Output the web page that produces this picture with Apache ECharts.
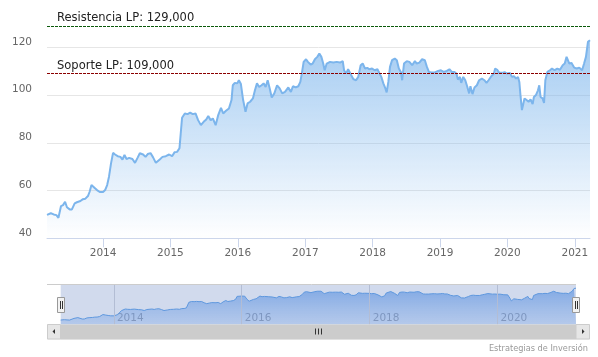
<!DOCTYPE html>
<html><head><meta charset="utf-8">
<script src="https://cdn.jsdelivr.net/npm/echarts@6/dist/echarts.min.js"></script>
<style>html,body{margin:0;padding:0;background:#fff}#c{width:598px;height:357px}</style>
</head><body><div id="c"></div>
<script>
const dates = [
'2013-03-03','2013-03-12','2013-03-24','2013-04-08','2013-04-23','2013-05-04','2013-05-18','2013-05-29','2013-06-09','2013-06-19','2013-07-04','2013-07-16','2013-07-31','2013-08-12','2013-08-31','2013-09-14','2013-09-27','2013-10-11','2013-10-20','2013-10-30','2013-11-07','2013-11-15','2013-11-29','2013-12-14',
'2014-01-01','2014-01-12','2014-01-23','2014-02-02','2014-02-13','2014-02-24','2014-03-07','2014-03-21','2014-04-05','2014-04-16','2014-04-27','2014-05-08','2014-05-22','2014-06-09','2014-06-23','2014-07-08','2014-07-19','2014-08-06','2014-08-19','2014-08-31','2014-09-15','2014-09-29','2014-10-14','2014-10-24','2014-11-04','2014-11-19','2014-12-07','2014-12-25',
'2015-01-10','2015-01-23','2015-02-06','2015-02-19','2015-02-26','2015-03-05','2015-03-20','2015-04-04','2015-04-18','2015-05-02','2015-05-17','2015-05-31','2015-06-15','2015-06-30','2015-07-14','2015-07-25','2015-08-07','2015-08-19','2015-09-03','2015-09-17','2015-10-02','2015-10-14','2015-10-29','2015-11-14','2015-11-28','2015-12-05','2015-12-16','2015-12-29',
'2016-01-07','2016-01-18','2016-01-30','2016-02-12','2016-02-23','2016-03-08','2016-03-23','2016-04-03','2016-04-14','2016-04-26','2016-05-09','2016-05-20','2016-05-31','2016-06-11','2016-06-22','2016-07-03','2016-07-17','2016-08-01','2016-08-15','2016-08-29','2016-09-13','2016-10-01','2016-10-15','2016-10-26','2016-11-10','2016-11-24','2016-12-05','2016-12-13','2016-12-23',
'2017-01-05','2017-01-15','2017-01-30','2017-02-10','2017-02-22','2017-03-07','2017-03-18','2017-03-29','2017-04-08','2017-04-16','2017-04-27','2017-05-15','2017-06-02','2017-06-20','2017-07-08','2017-07-23','2017-07-30','2017-08-10','2017-08-21','2017-08-31','2017-09-07','2017-09-18','2017-10-03','2017-10-15','2017-10-28','2017-11-08','2017-11-21','2017-12-03','2017-12-14','2017-12-29',
'2018-01-12','2018-01-27','2018-02-06','2018-02-17','2018-02-28','2018-03-11','2018-03-18','2018-03-27','2018-04-05','2018-04-16','2018-05-01','2018-05-12','2018-05-23','2018-06-03','2018-06-10','2018-06-20','2018-07-05','2018-07-19','2018-08-03','2018-08-18','2018-08-28','2018-09-11','2018-09-26','2018-10-11','2018-10-22','2018-11-02','2018-11-16','2018-12-04','2018-12-22',
'2019-01-06','2019-01-20','2019-02-07','2019-02-21','2019-03-06','2019-03-20','2019-03-31','2019-04-08','2019-04-19','2019-04-26','2019-05-07','2019-05-18','2019-05-28','2019-06-08','2019-06-15','2019-06-26','2019-07-07','2019-07-20','2019-08-01','2019-08-16','2019-08-30','2019-09-10','2019-09-21','2019-10-06','2019-10-20','2019-10-27','2019-11-07','2019-11-18','2019-12-03','2019-12-17','2019-12-31',
'2020-01-15','2020-01-26','2020-02-06','2020-02-17','2020-02-28','2020-03-06','2020-03-13','2020-03-20','2020-03-27','2020-04-03','2020-04-14','2020-04-25','2020-05-06','2020-05-17','2020-05-24','2020-06-04','2020-06-15','2020-06-22','2020-06-29','2020-07-10','2020-07-18','2020-07-25','2020-08-05','2020-08-19','2020-08-30','2020-09-13','2020-09-28','2020-10-12','2020-10-27','2020-11-07','2020-11-17','2020-11-25','2020-12-02','2020-12-13','2020-12-28',
'2021-01-11','2021-01-25','2021-02-09','2021-02-20','2021-03-02','2021-03-13','2021-03-24'
];
const values = [
49.8,49.5,50.5,50,49.7,48.6,53.5,53.9,55.3,53,52.1,52.1,54.6,55.1,55.6,56.4,56.6,57.7,59.5,62.3,62.7,61.2,60.2,59.4,
59.4,60.2,62.3,65.8,71.4,75.8,75.1,74.4,74.1,73,74.9,73.2,73.7,73.2,71.6,73.9,75.6,75.1,74.1,75.3,75.7,73.9,71.6,71.4,73,74.1,74.4,75.1,
74.4,76,76.2,77.7,78.5,90.5,92.3,92,92.6,92,92.3,89.5,87.4,88.8,89.8,91.2,89.5,90.2,87.4,91.6,94.6,92.3,93.4,94.4,97.9,104.1,105.1,104.9,
106.2,104.6,97.9,93,96.5,97.2,98.6,102,104.9,103.4,104.1,104.9,103.4,106.2,102.8,99,100.7,104.1,102.8,100.7,101.3,103.2,101.3,103.7,103.2,103.7,105.5,109,113.9,
115,113.9,112.8,113.2,115,116,117.4,116,113.2,110.4,113.2,113.9,113.6,113.9,113.6,114.2,110.4,109,110.8,111.4,108.3,106.7,106.2,107.6,112.5,113.2,111.1,111.4,110.8,111.1,
110.4,110.8,110.4,107.6,104.9,102.8,101.1,105.5,111.8,114.6,115.3,114.6,111.1,109.7,106.2,113.2,114.2,113.9,112.5,114.2,113.2,113.6,115,114.6,111.8,109.7,109.5,109.5,110.1,
110.4,109.7,110.1,110.8,109.7,109.7,109,106.5,107.6,105.1,107.6,106.2,103.7,100.7,103.7,100.4,103.2,104.1,106.2,106.9,106.2,105.1,106.2,107.9,109,111.1,110.6,109.3,109.3,109.6,109,
109.3,107.6,107.9,106.9,107.6,105.5,99.2,93.7,94.4,98.6,97.9,97.2,98.2,96.2,99.2,100,102,104.1,99.2,98.6,96.7,106.2,109.7,110.4,111.1,110.4,111.1,110.6,112.5,113.2,116,116.3,113.2,113.5,111.5,
111.1,111.5,110.4,113.2,116,122.3,123
];
const levelValues = [129, 109];
const levelNames = ['Resistencia LP: 129,000', 'Soporte LP: 109,000'];
const levelColors = ['#0b5a0b', '#8b0000'];
const navigatorYears = ['2014-01-01', '2016-01-01', '2018-01-01', '2020-01-01'];
const creditText = 'Estrategias de Inversión';

const data = dates.map((d, i) => [d, values[i]]);
const FONT = 'DejaVu Sans';
const DAY = 86400000;
const chart = echarts.init(document.getElementById('c'), null, {renderer: 'canvas'});
chart.setOption({
  animation: false,
  textStyle: {fontFamily: FONT},
  grid: [
    {left: 47, right: 8, top: 11.5, bottom: 118.7},
    {left: 60.7, right: 22, top: 284.7, bottom: 32.3, show: true, backgroundColor: 'rgba(102,133,194,0.3)', borderWidth: 0}
  ],
  xAxis: [
    {type: 'time', gridIndex: 0, min: dates[0], max: dates[dates.length - 1],
     minInterval: 365 * DAY, maxInterval: 366 * DAY,
     axisLine: {lineStyle: {color: '#ccd6eb', width: 1}},
     axisTick: {show: true, length: 9, lineStyle: {color: '#ccd6eb'}},
     axisLabel: {formatter: v => String(new Date(v).getFullYear()), color: '#666', fontSize: 10.5, fontFamily: FONT, margin: 9, hideOverlap: false},
     splitLine: {show: false}},
    {type: 'time', gridIndex: 1, min: dates[0], max: dates[dates.length - 1],
     minInterval: 365 * DAY, maxInterval: 366 * DAY,
     axisLine: {show: false}, axisTick: {show: false}, splitLine: {show: false},
     axisLabel: {inside: true, margin: 1, align: 'left', padding: [0, 0, 0, 3], color: '#8a93a9', fontSize: 10.5, fontFamily: FONT,
       formatter: v => { const y = new Date(v).getFullYear(); return y % 2 === 0 ? String(y) : ''; }}}
  ],
  yAxis: [
    {type: 'value', gridIndex: 0, min: 40, max: 135, interval: 20,
     axisLine: {show: false}, axisTick: {show: false},
     axisLabel: {color: '#666', fontSize: 10.5, fontFamily: FONT, margin: 15, verticalAlign: 'bottom', showMaxLabel: false},
     splitLine: {show: true, showMaxLine: false, lineStyle: {color: '#e6e6e6', width: 1}}},
    {type: 'value', gridIndex: 1, min: 39, max: 131, show: false, splitLine: {show: false}}
  ],
  series: [
    {type: 'line', xAxisIndex: 0, yAxisIndex: 0, data: data, showSymbol: false, symbol: 'none',
     lineStyle: {color: '#7cb5ec', width: 2},
     areaStyle: {origin: 'start', color: new echarts.graphic.LinearGradient(0, 0, 0, 1, [
       {offset: 0, color: 'rgba(124,181,236,1)'}, {offset: 1, color: 'rgba(124,181,236,0)'}])},
     markLine: {symbol: 'none', silent: true, animation: false,
       lineStyle: {type: [3, 1], width: 1},
       label: {position: 'insideStartTop', formatter: '{b}', color: '#222', fontSize: 11.5, fontFamily: FONT, distance: [10, 2]},
       data: levelValues.map((v, i) => ({yAxis: v, name: levelNames[i], lineStyle: {color: levelColors[i]}}))}},
    {type: 'line', xAxisIndex: 1, yAxisIndex: 1, data: data, showSymbol: false, symbol: 'none',
     lineStyle: {color: '#5f98de', width: 1},
     areaStyle: {origin: 'start', color: new echarts.graphic.LinearGradient(0, 0, 0, 1, [
       {offset: 0, color: 'rgba(78,138,222,0.88)'}, {offset: 1, color: 'rgba(118,163,230,0.45)'}])},
     markLine: {symbol: 'none', silent: true, animation: false, label: {show: false},
       lineStyle: {type: 'solid', width: 1, color: '#b3bdd4'},
       data: navigatorYears.map(d => ({xAxis: d}))}}
  ],
  graphic: [
    {type: 'line', z: 100, shape: {x1: 47, y1: 284.5, x2: 576, y2: 284.5}, style: {stroke: '#cccccc', lineWidth: 1}},
    {type: 'rect', z: 100, shape: {x: 47, y: 324.5, width: 543, height: 15}, style: {fill: '#f2f2f2'}},
    {type: 'rect', z: 101, shape: {x: 60.5, y: 324.5, width: 515.5, height: 15}, style: {fill: '#cccccc'}},
    {type: 'rect', z: 101, shape: {x: 47.5, y: 324.5, width: 13, height: 14.5}, style: {fill: '#e6e6e6', stroke: '#cccccc', lineWidth: 1}},
    {type: 'rect', z: 101, shape: {x: 576, y: 324.5, width: 13.5, height: 14.5}, style: {fill: '#e6e6e6', stroke: '#cccccc', lineWidth: 1}},
    {type: 'polygon', z: 102, shape: {points: [[55, 329], [55, 334], [52.5, 331.5]]}, style: {fill: '#333'}},
    {type: 'polygon', z: 102, shape: {points: [[582, 329], [582, 334], [584.5, 331.5]]}, style: {fill: '#333'}},
    {type: 'line', z: 102, shape: {x1: 315.5, y1: 328.5, x2: 315.5, y2: 334.5}, style: {stroke: '#333', lineWidth: 1}},
    {type: 'line', z: 102, shape: {x1: 318.5, y1: 328.5, x2: 318.5, y2: 334.5}, style: {stroke: '#333', lineWidth: 1}},
    {type: 'line', z: 102, shape: {x1: 321.5, y1: 328.5, x2: 321.5, y2: 334.5}, style: {stroke: '#333', lineWidth: 1}},
    {type: 'rect', z: 103, shape: {x: 57.5, y: 297.5, width: 7, height: 15}, style: {fill: '#f2f2f2', stroke: '#999', lineWidth: 1}},
    {type: 'line', z: 104, shape: {x1: 60.5, y1: 301, x2: 60.5, y2: 309}, style: {stroke: '#333', lineWidth: 1}},
    {type: 'line', z: 104, shape: {x1: 62.5, y1: 301, x2: 62.5, y2: 309}, style: {stroke: '#333', lineWidth: 1}},
    {type: 'rect', z: 103, shape: {x: 572.5, y: 297.5, width: 7, height: 15}, style: {fill: '#f2f2f2', stroke: '#999', lineWidth: 1}},
    {type: 'line', z: 104, shape: {x1: 575.5, y1: 301, x2: 575.5, y2: 309}, style: {stroke: '#333', lineWidth: 1}},
    {type: 'line', z: 104, shape: {x1: 577.5, y1: 301, x2: 577.5, y2: 309}, style: {stroke: '#333', lineWidth: 1}},
    {type: 'text', z: 104, style: {x: 588, y: 348.5, text: creditText, textAlign: 'right', textVerticalAlign: 'middle', font: '8.2px "DejaVu Sans"', fill: '#999'}}
  ]
});
</script></body></html>
